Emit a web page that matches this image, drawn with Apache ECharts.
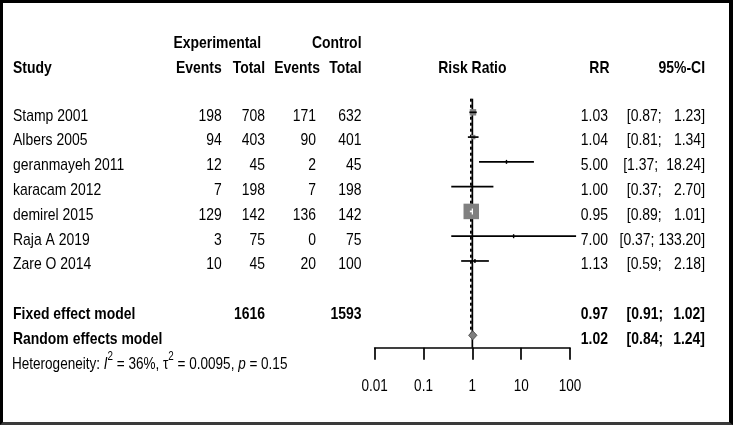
<!DOCTYPE html>
<html><head><meta charset="utf-8">
<script src="https://cdn.jsdelivr.net/npm/echarts@6/dist/echarts.min.js"></script>
<style>
html,body{margin:0;padding:0;background:#fff}
#wrap{position:relative;width:733px;height:425px}
#c{position:absolute;left:0;top:0;width:733px;height:425px}
#frame{position:absolute;left:0;top:0;width:733px;height:425px;box-sizing:border-box;border:3px solid #000;border-right-width:4px;border-bottom-color:#3a3a3a;pointer-events:none}
</style></head><body>
<div id="wrap"><div id="c"></div><div id="frame"></div></div>
<script>
// ---- data ----
const studies = ['Stamp 2001','Albers 2005','geranmayeh 2011','karacam 2012','demirel 2015','Raja A 2019','Zare O 2014'];
const expEvents = [198, 94, 12, 7, 129, 3, 10];
const expTotal = [708, 403, 45, 198, 142, 75, 45];
const ctrlEvents = [171, 90, 2, 7, 136, 0, 20];
const ctrlTotal = [632, 401, 45, 198, 142, 75, 100];
const rr = [1.03, 1.04, 5.00, 1.00, 0.95, 7.00, 1.13];
const ciLower = [0.87, 0.81, 1.37, 0.37, 0.89, 0.37, 0.59];
const ciUpper = [1.23, 1.34, 18.24, 2.70, 1.01, 133.20, 2.18];
const weights = [13.5, 6.5, 0.2, 0.4, 78.5, 0.1, 0.8];
const modelNames = ['Fixed effect model', 'Random effects model'];
const modelExpTotal = [1616, null];
const modelCtrlTotal = [1593, null];
const modelRR = [0.97, 1.02];
const modelLower = [0.91, 0.84];
const modelUpper = [1.02, 1.24];
const hetI2 = '36%', hetTau2 = '0.0095', hetP = '0.15';
const tickLabels = ['0.01', '0.1', '1', '10', '100'];
const nullValue = 1;

// ---- layout ----
const FONT = "'Liberation Sans Narrow','Arial Narrow','Liberation Sans',Arial,sans-serif";
const FS = 17;
const SX = 0.82;           // horizontal condensing of the text (narrow face)
const DY = 3.7;            // text baseline tweak
const COL = {study: 13, expE: 221.7, expT: 265, ctrlE: 316, ctrlT: 361.5, rr: 608, ci: 705};
const studyRows = studies.map((s, i) => i);
const modelRows = [8, 9];

const mctx = document.createElement('canvas').getContext('2d');
function textW(t, bold, size) {
  mctx.font = (bold ? 'bold ' : '') + (size || FS) + 'px ' + FONT;
  return mctx.measureText(t).width * SX;
}
const hiAll = ciUpper.concat(modelUpper);
const wHi = Math.max(...hiAll.map(v => v.toFixed(2).length));
function ciCells(lo, hi, bold) {
  const up = hi.toFixed(2) + ']';
  const nSp = 1 + (wHi - hi.toFixed(2).length);
  const sp = bold ? 3.4 : 4.1;
  const loX = COL.ci - textW(up, bold) - nSp * sp;
  return [['[' + lo.toFixed(2) + ';', loX, 'right', bold], [up, COL.ci, 'right', bold]];
}

const tableRows = [];
tableRows.push({row: -2.93, cells: [['Experimental', COL.expT - 4, 'right', true], ['Control', COL.ctrlT, 'right', true]]});
tableRows.push({row: -1.92, cells: [['Study', COL.study, 'left', true], ['Events', COL.expE, 'right', true], ['Total', COL.expT, 'right', true],
  ['Events', COL.ctrlE + 4, 'right', true], ['Total', COL.ctrlT, 'right', true], ['RR', COL.rr + 1.5, 'right', true], ['95%-CI', COL.ci, 'right', true]],
  center: ['Risk Ratio', true]});
studies.forEach((s, i) => tableRows.push({row: studyRows[i], cells: [
  [s, COL.study, 'left'], [String(expEvents[i]), COL.expE, 'right'], [String(expTotal[i]), COL.expT, 'right'],
  [String(ctrlEvents[i]), COL.ctrlE, 'right'], [String(ctrlTotal[i]), COL.ctrlT, 'right'],
  [rr[i].toFixed(2), COL.rr, 'right']].concat(ciCells(ciLower[i], ciUpper[i], false))}));
modelNames.forEach((m, k) => {
  const cells = [[m, COL.study, 'left', true], [modelRR[k].toFixed(2), COL.rr, 'right', true]].concat(ciCells(modelLower[k], modelUpper[k], true));
  if (modelExpTotal[k] != null) cells.push([String(modelExpTotal[k]), COL.expT, 'right', true]);
  if (modelCtrlTotal[k] != null) cells.push([String(modelCtrlTotal[k]), COL.ctrlT, 'right', true]);
  tableRows.push({row: modelRows[k], cells});
});
tableRows.push({row: 9.91, het: true});

function txt(x, y, text, align, bold, size) {
  return {type: 'text', x: x, y: y, scaleX: SX, style: {text: text, align: align, verticalAlign: 'middle',
    fontSize: size || FS, fontWeight: bold ? 'bold' : 'normal', fontFamily: FONT, fill: '#000'}};
}
const LW = 1.7;

const chart = echarts.init(document.getElementById('c'), null, {renderer: 'canvas'});
chart.setOption({
  backgroundColor: '#fff',
  animation: false,
  grid: {left: 374.7, right: 163, top: 13.2, bottom: 77.3},
  xAxis: {
    type: 'log', logBase: 10, min: 0.01, max: 100, splitNumber: 4, position: 'bottom',
    axisLine: {show: true, onZero: false, lineStyle: {color: '#000', width: LW}},
    axisTick: {show: true, inside: false, length: 12, lineStyle: {color: '#000', width: LW}},
    splitLine: {show: false}, minorTick: {show: false},
    axisLabel: {show: false}
  },
  yAxis: {type: 'value', inverse: true, min: -4, max: 9.5, show: false},
  series: [
    { // reference lines (null effect solid, fixed effect dashed)
      type: 'custom', z: 1, clip: false,
      data: [[nullValue, 0], [modelRR[0], 1]],
      encode: {x: 0, y: 1},
      renderItem: (params, api) => {
        const k = params.dataIndex;
        const top = api.coord([api.value(0), -0.55]);
        const bot = api.coord([api.value(0), k === 0 ? 9.5 : 9]);
        return {type: 'line', shape: {x1: top[0] - (k ? 0.8 : 0), y1: top[1], x2: bot[0] - (k ? 0.8 : 0), y2: bot[1]},
          style: k === 0 ? {stroke: '#000', lineWidth: LW} : {stroke: '#000', lineWidth: 1.8, lineDash: [3, 3]}};
      }
    },
    { // study squares + CIs
      type: 'custom', z: 3, clip: false,
      data: studies.map((s, i) => [rr[i], studyRows[i]]),
      encode: {x: 0, y: 1},
      renderItem: (params, api) => {
        const i = params.dataIndex;
        const c = api.coord([rr[i], studyRows[i]]);
        const l = api.coord([ciLower[i], studyRows[i]]);
        const h = api.coord([ciUpper[i], studyRows[i]]);
        const side = Math.max(1.5, 1.75 * Math.sqrt(weights[i]));
        const inside = (c[0] - side / 2 <= l[0]) && (c[0] + side / 2 >= h[0]);
        const ch = [
          {type: 'rect', shape: {x: c[0] - side / 2, y: c[1] - side / 2, width: side, height: side}, style: {fill: '#808080'}},
          {type: 'line', shape: {x1: l[0], y1: c[1], x2: h[0], y2: c[1]}, style: {stroke: inside ? '#fff' : '#000', lineWidth: LW}}
        ];
        if (inside) {
          const n = api.coord([nullValue, studyRows[i]]);
          ch.push({type: 'line', shape: {x1: n[0], y1: c[1] - 3, x2: n[0], y2: c[1] + 3}, style: {stroke: '#fff', lineWidth: 1.2}});
        }
        if (side < 3) ch.push({type: 'line', shape: {x1: c[0], y1: c[1] - 2, x2: c[0], y2: c[1] + 2}, style: {stroke: '#000', lineWidth: 1.4}});
        return {type: 'group', children: ch};
      }
    },
    { // random effects diamond
      type: 'custom', z: 3, clip: false,
      data: [[modelRR[1], modelRows[1]]],
      encode: {x: 0, y: 1},
      renderItem: (params, api) => {
        const c = api.coord([modelRR[1], modelRows[1]]);
        const l = api.coord([modelLower[1], modelRows[1]]);
        const h = api.coord([modelUpper[1], modelRows[1]]);
        return {type: 'polygon', shape: {points: [[l[0], c[1]], [c[0], c[1] - 4.5], [h[0], c[1]], [c[0], c[1] + 4.5]]},
          style: {fill: '#808080', stroke: '#555', lineWidth: 1}};
      }
    },
    { // x-axis tick labels (condensed)
      type: 'custom', z: 5, clip: false, silent: true,
      data: tickLabels.map(t => [+t, 9.5]),
      encode: {x: 0, y: 1},
      renderItem: (params, api) => {
        const p = api.coord([api.value(0), api.value(1)]);
        return txt(p[0], p[1] + 39, tickLabels[params.dataIndex], 'center', false, 16.5);
      }
    },
    { // table text
      type: 'custom', z: 5, clip: false, silent: true,
      data: tableRows.map(r => [nullValue, r.row]),
      encode: {x: 0, y: 1},
      renderItem: (params, api) => {
        const r = tableRows[params.dataIndex];
        const p = api.coord([nullValue, r.row]);
        const y = p[1] + DY;
        if (r.het) {
          return {type: 'text', x: 12, y: y, scaleX: SX, style: {
            text: '{n|Heterogeneity: }{i|I}{s|2}{n| = ' + hetI2 + ', τ}{s|2}{n| = ' + hetTau2 + ', }{i|p}{n| = ' + hetP + '}',
            align: 'left', verticalAlign: 'middle', fill: '#000',
            rich: {
              n: {fontSize: 16.5, fontFamily: FONT, lineHeight: 22, verticalAlign: 'bottom', fill: '#000'},
              i: {fontSize: 16.5, fontFamily: FONT, fontStyle: 'italic', lineHeight: 22, verticalAlign: 'bottom', fill: '#000'},
              s: {fontSize: 12, fontFamily: FONT, lineHeight: 4, verticalAlign: 'top', fill: '#000'}
            }}};
        }
        const ch = r.cells.map(c => txt(c[1], y, c[0], c[2], c[3]));
        if (r.center) ch.push(txt(p[0], y, r.center[0], 'center', r.center[1]));
        return {type: 'group', children: ch};
      }
    }
  ]
});
</script>
</body></html>
